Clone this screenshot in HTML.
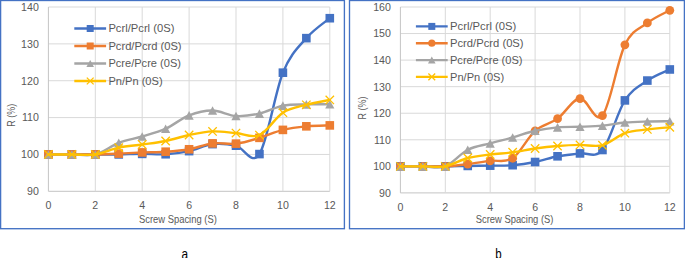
<!DOCTYPE html>
<html><head><meta charset="utf-8"><style>
html,body{margin:0;padding:0;background:#fff;}
body{width:685px;height:258px;overflow:hidden;position:relative;}
svg{position:absolute;left:0;top:0;display:block;}
.t{font-family:"Liberation Sans",sans-serif;font-size:10.6px;fill:#595959;}
.lab{font-family:"Liberation Sans",sans-serif;font-size:14px;fill:#000;}
</style></head><body>
<svg width="685" height="258" viewBox="0 0 685 258">
<rect x="0.6" y="0.5" width="343.8" height="228.2" fill="#fff" stroke="#4472C4" stroke-width="1.35"/>
<line x1="48.4" y1="191.3" x2="329.8" y2="191.3" stroke="#C4C4C4" stroke-width="1"/>
<text x="38.8" y="195.2" text-anchor="end" class="t">90</text>
<line x1="48.4" y1="154.44" x2="329.8" y2="154.44" stroke="#D9D9D9" stroke-width="1"/>
<text x="38.8" y="158.34" text-anchor="end" class="t">100</text>
<line x1="48.4" y1="117.58" x2="329.8" y2="117.58" stroke="#D9D9D9" stroke-width="1"/>
<text x="38.8" y="121.48" text-anchor="end" class="t">110</text>
<line x1="48.4" y1="80.72" x2="329.8" y2="80.72" stroke="#D9D9D9" stroke-width="1"/>
<text x="38.8" y="84.62" text-anchor="end" class="t">120</text>
<line x1="48.4" y1="43.86" x2="329.8" y2="43.86" stroke="#D9D9D9" stroke-width="1"/>
<text x="38.8" y="47.76" text-anchor="end" class="t">130</text>
<line x1="48.4" y1="7" x2="329.8" y2="7" stroke="#D9D9D9" stroke-width="1"/>
<text x="38.8" y="10.9" text-anchor="end" class="t">140</text>
<line x1="48.4" y1="7" x2="48.4" y2="191.3" stroke="#C4C4C4" stroke-width="1"/>
<text x="48.4" y="209.4" text-anchor="middle" class="t">0</text>
<line x1="95.3" y1="7" x2="95.3" y2="191.3" stroke="#D9D9D9" stroke-width="1"/>
<text x="95.3" y="209.4" text-anchor="middle" class="t">2</text>
<line x1="142.2" y1="7" x2="142.2" y2="191.3" stroke="#D9D9D9" stroke-width="1"/>
<text x="142.2" y="209.4" text-anchor="middle" class="t">4</text>
<line x1="189.1" y1="7" x2="189.1" y2="191.3" stroke="#D9D9D9" stroke-width="1"/>
<text x="189.1" y="209.4" text-anchor="middle" class="t">6</text>
<line x1="236" y1="7" x2="236" y2="191.3" stroke="#D9D9D9" stroke-width="1"/>
<text x="236" y="209.4" text-anchor="middle" class="t">8</text>
<line x1="282.9" y1="7" x2="282.9" y2="191.3" stroke="#D9D9D9" stroke-width="1"/>
<text x="282.9" y="209.4" text-anchor="middle" class="t">10</text>
<line x1="329.8" y1="7" x2="329.8" y2="191.3" stroke="#D9D9D9" stroke-width="1"/>
<text x="329.8" y="209.4" text-anchor="middle" class="t">12</text>
<text x="177.9" y="222.7" text-anchor="middle" class="t" textLength="77.8" lengthAdjust="spacingAndGlyphs">Screw Spacing (S)</text>
<text transform="translate(11.4,115.2) rotate(-90)" x="0" y="3.8" text-anchor="middle" class="t" textLength="23" lengthAdjust="spacingAndGlyphs">R (%)</text>
<line x1="74.3" y1="28.5" x2="106.1" y2="28.5" stroke="#4472C4" stroke-width="2.4"/>
<rect x="86.7" y="25" width="7" height="7" fill="#4472C4"/>
<text x="108.4" y="32.3" class="t" textLength="66" lengthAdjust="spacingAndGlyphs">Pcrl/Pcrl (0S)</text>
<line x1="74.3" y1="46" x2="106.1" y2="46" stroke="#ED7D31" stroke-width="2.4"/>
<rect x="86.7" y="42.5" width="7" height="7" fill="#ED7D31"/>
<text x="108.4" y="49.8" class="t" textLength="73.2" lengthAdjust="spacingAndGlyphs">Pcrd/Pcrd (0S)</text>
<line x1="74.3" y1="63.5" x2="106.1" y2="63.5" stroke="#A5A5A5" stroke-width="2.4"/>
<path d="M90.2,60 L94,67 L86.4,67 Z" fill="#A5A5A5"/>
<text x="108.4" y="67.3" class="t" textLength="72.6" lengthAdjust="spacingAndGlyphs">Pcre/Pcre (0S)</text>
<line x1="74.3" y1="81" x2="106.1" y2="81" stroke="#FFC000" stroke-width="2.4"/>
<path d="M86.8,77.6 L93.6,84.4 M86.8,84.4 L93.6,77.6" stroke="#FFC000" stroke-width="1.3" fill="none"/>
<text x="108.4" y="84.8" class="t" textLength="54.2" lengthAdjust="spacingAndGlyphs">Pn/Pn (0S)</text>
<path d="M48.4,154.44 C52.31,154.44 64.03,154.44 71.85,154.44 C79.67,154.44 87.48,154.44 95.3,154.44 C103.12,154.44 110.93,154.53 118.75,154.44 C126.57,154.35 134.38,153.92 142.2,153.89 C150.02,153.86 157.83,154.72 165.65,154.26 C173.47,153.79 181.28,152.81 189.1,151.12 C196.92,149.43 204.73,145.02 212.55,144.12 C220.37,143.22 228.18,144.05 236,145.7 C243.82,147.36 251.63,166.24 259.45,154.07 C267.27,141.9 275.08,92.01 282.9,72.68 C290.72,53.36 298.53,47.23 306.35,38.15 C314.17,29.07 325.89,21.53 329.8,18.21" fill="none" stroke="#4472C4" stroke-width="2.4" stroke-linecap="round" stroke-linejoin="round"/>
<rect x="44.1" y="150.14" width="8.6" height="8.6" fill="#4472C4"/>
<rect x="67.55" y="150.14" width="8.6" height="8.6" fill="#4472C4"/>
<rect x="91" y="150.14" width="8.6" height="8.6" fill="#4472C4"/>
<rect x="114.45" y="150.14" width="8.6" height="8.6" fill="#4472C4"/>
<rect x="137.9" y="149.59" width="8.6" height="8.6" fill="#4472C4"/>
<rect x="161.35" y="149.96" width="8.6" height="8.6" fill="#4472C4"/>
<rect x="184.8" y="146.82" width="8.6" height="8.6" fill="#4472C4"/>
<rect x="208.25" y="139.82" width="8.6" height="8.6" fill="#4472C4"/>
<rect x="231.7" y="141.4" width="8.6" height="8.6" fill="#4472C4"/>
<rect x="255.15" y="149.77" width="8.6" height="8.6" fill="#4472C4"/>
<rect x="278.6" y="68.38" width="8.6" height="8.6" fill="#4472C4"/>
<rect x="302.05" y="33.85" width="8.6" height="8.6" fill="#4472C4"/>
<rect x="325.5" y="13.91" width="8.6" height="8.6" fill="#4472C4"/>
<path d="M48.4,154.44 C52.31,154.44 64.03,154.44 71.85,154.44 C79.67,154.44 87.48,154.58 95.3,154.44 C103.12,154.3 110.93,153.93 118.75,153.59 C126.57,153.25 134.38,152.73 142.2,152.41 C150.02,152.1 157.83,152.23 165.65,151.71 C173.47,151.19 181.28,150.67 189.1,149.28 C196.92,147.89 204.73,144.32 212.55,143.38 C220.37,142.44 228.18,144.56 236,143.64 C243.82,142.72 251.63,140.14 259.45,137.85 C267.27,135.56 275.08,131.81 282.9,129.89 C290.72,127.97 298.53,127.07 306.35,126.32 C314.17,125.57 325.89,125.55 329.8,125.39" fill="none" stroke="#ED7D31" stroke-width="2.4" stroke-linecap="round" stroke-linejoin="round"/>
<rect x="44.1" y="150.14" width="8.6" height="8.6" fill="#ED7D31"/>
<rect x="67.55" y="150.14" width="8.6" height="8.6" fill="#ED7D31"/>
<rect x="91" y="150.14" width="8.6" height="8.6" fill="#ED7D31"/>
<rect x="114.45" y="149.29" width="8.6" height="8.6" fill="#ED7D31"/>
<rect x="137.9" y="148.11" width="8.6" height="8.6" fill="#ED7D31"/>
<rect x="161.35" y="147.41" width="8.6" height="8.6" fill="#ED7D31"/>
<rect x="184.8" y="144.98" width="8.6" height="8.6" fill="#ED7D31"/>
<rect x="208.25" y="139.08" width="8.6" height="8.6" fill="#ED7D31"/>
<rect x="231.7" y="139.34" width="8.6" height="8.6" fill="#ED7D31"/>
<rect x="255.15" y="133.55" width="8.6" height="8.6" fill="#ED7D31"/>
<rect x="278.6" y="125.59" width="8.6" height="8.6" fill="#ED7D31"/>
<rect x="302.05" y="122.02" width="8.6" height="8.6" fill="#ED7D31"/>
<rect x="325.5" y="121.09" width="8.6" height="8.6" fill="#ED7D31"/>
<path d="M48.4,154.44 C52.31,154.44 64.03,154.44 71.85,154.44 C79.67,154.44 87.48,156.36 95.3,154.44 C103.12,152.52 110.93,145.89 118.75,142.9 C126.57,139.91 134.38,138.85 142.2,136.49 C150.02,134.12 157.83,132.23 165.65,128.71 C173.47,125.19 181.28,118.4 189.1,115.37 C196.92,112.33 204.73,110.4 212.55,110.5 C220.37,110.61 228.18,115.48 236,116 C243.82,116.51 251.63,115.33 259.45,113.6 C267.27,111.87 275.08,107.17 282.9,105.64 C290.72,104.1 298.53,104.61 306.35,104.38 C314.17,104.16 325.89,104.32 329.8,104.31" fill="none" stroke="#A5A5A5" stroke-width="2.4" stroke-linecap="round" stroke-linejoin="round"/>
<path d="M48.4,150.14 L53,158.74 L43.8,158.74 Z" fill="#A5A5A5"/>
<path d="M71.85,150.14 L76.45,158.74 L67.25,158.74 Z" fill="#A5A5A5"/>
<path d="M95.3,150.14 L99.9,158.74 L90.7,158.74 Z" fill="#A5A5A5"/>
<path d="M118.75,138.6 L123.35,147.2 L114.15,147.2 Z" fill="#A5A5A5"/>
<path d="M142.2,132.19 L146.8,140.79 L137.6,140.79 Z" fill="#A5A5A5"/>
<path d="M165.65,124.41 L170.25,133.01 L161.05,133.01 Z" fill="#A5A5A5"/>
<path d="M189.1,111.07 L193.7,119.67 L184.5,119.67 Z" fill="#A5A5A5"/>
<path d="M212.55,106.2 L217.15,114.8 L207.95,114.8 Z" fill="#A5A5A5"/>
<path d="M236,111.7 L240.6,120.3 L231.4,120.3 Z" fill="#A5A5A5"/>
<path d="M259.45,109.3 L264.05,117.9 L254.85,117.9 Z" fill="#A5A5A5"/>
<path d="M282.9,101.34 L287.5,109.94 L278.3,109.94 Z" fill="#A5A5A5"/>
<path d="M306.35,100.08 L310.95,108.68 L301.75,108.68 Z" fill="#A5A5A5"/>
<path d="M329.8,100.01 L334.4,108.61 L325.2,108.61 Z" fill="#A5A5A5"/>
<path d="M48.4,154.44 C52.31,154.44 64.03,154.44 71.85,154.44 C79.67,154.44 87.48,155.58 95.3,154.44 C103.12,153.3 110.93,149.28 118.75,147.62 C126.57,145.96 134.38,145.59 142.2,144.49 C150.02,143.38 157.83,142.56 165.65,140.99 C173.47,139.41 181.28,136.61 189.1,135.01 C196.92,133.42 204.73,131.73 212.55,131.4 C220.37,131.08 228.18,132.45 236,133.06 C243.82,133.68 251.63,138.49 259.45,135.09 C267.27,131.69 275.08,117.73 282.9,112.68 C290.72,107.63 298.53,106.92 306.35,104.79 C314.17,102.66 325.89,100.7 329.8,99.89" fill="none" stroke="#FFC000" stroke-width="2.4" stroke-linecap="round" stroke-linejoin="round"/>
<path d="M44.2,150.24 L52.6,158.64 M44.2,158.64 L52.6,150.24" stroke="#FFC000" stroke-width="1.3" fill="none"/>
<path d="M67.65,150.24 L76.05,158.64 M67.65,158.64 L76.05,150.24" stroke="#FFC000" stroke-width="1.3" fill="none"/>
<path d="M91.1,150.24 L99.5,158.64 M91.1,158.64 L99.5,150.24" stroke="#FFC000" stroke-width="1.3" fill="none"/>
<path d="M114.55,143.42 L122.95,151.82 M114.55,151.82 L122.95,143.42" stroke="#FFC000" stroke-width="1.3" fill="none"/>
<path d="M138,140.29 L146.4,148.69 M138,148.69 L146.4,140.29" stroke="#FFC000" stroke-width="1.3" fill="none"/>
<path d="M161.45,136.79 L169.85,145.19 M161.45,145.19 L169.85,136.79" stroke="#FFC000" stroke-width="1.3" fill="none"/>
<path d="M184.9,130.81 L193.3,139.21 M184.9,139.21 L193.3,130.81" stroke="#FFC000" stroke-width="1.3" fill="none"/>
<path d="M208.35,127.2 L216.75,135.6 M208.35,135.6 L216.75,127.2" stroke="#FFC000" stroke-width="1.3" fill="none"/>
<path d="M231.8,128.86 L240.2,137.26 M231.8,137.26 L240.2,128.86" stroke="#FFC000" stroke-width="1.3" fill="none"/>
<path d="M255.25,130.89 L263.65,139.29 M255.25,139.29 L263.65,130.89" stroke="#FFC000" stroke-width="1.3" fill="none"/>
<path d="M278.7,108.48 L287.1,116.88 M278.7,116.88 L287.1,108.48" stroke="#FFC000" stroke-width="1.3" fill="none"/>
<path d="M302.15,100.59 L310.55,108.99 M302.15,108.99 L310.55,100.59" stroke="#FFC000" stroke-width="1.3" fill="none"/>
<path d="M325.6,95.69 L334,104.09 M325.6,104.09 L334,95.69" stroke="#FFC000" stroke-width="1.3" fill="none"/>
<rect x="349.5" y="0.5" width="334.9" height="228.2" fill="#fff" stroke="#4472C4" stroke-width="1.35"/>
<line x1="400.4" y1="192.9" x2="669.8" y2="192.9" stroke="#C4C4C4" stroke-width="1"/>
<text x="390.9" y="196.8" text-anchor="end" class="t">90</text>
<line x1="400.4" y1="166.34" x2="669.8" y2="166.34" stroke="#D9D9D9" stroke-width="1"/>
<text x="390.9" y="170.24" text-anchor="end" class="t">100</text>
<line x1="400.4" y1="139.79" x2="669.8" y2="139.79" stroke="#D9D9D9" stroke-width="1"/>
<text x="390.9" y="143.69" text-anchor="end" class="t">110</text>
<line x1="400.4" y1="113.23" x2="669.8" y2="113.23" stroke="#D9D9D9" stroke-width="1"/>
<text x="390.9" y="117.13" text-anchor="end" class="t">120</text>
<line x1="400.4" y1="86.67" x2="669.8" y2="86.67" stroke="#D9D9D9" stroke-width="1"/>
<text x="390.9" y="90.57" text-anchor="end" class="t">130</text>
<line x1="400.4" y1="60.11" x2="669.8" y2="60.11" stroke="#D9D9D9" stroke-width="1"/>
<text x="390.9" y="64.01" text-anchor="end" class="t">140</text>
<line x1="400.4" y1="33.56" x2="669.8" y2="33.56" stroke="#D9D9D9" stroke-width="1"/>
<text x="390.9" y="37.46" text-anchor="end" class="t">150</text>
<line x1="400.4" y1="7" x2="669.8" y2="7" stroke="#D9D9D9" stroke-width="1"/>
<text x="390.9" y="10.9" text-anchor="end" class="t">160</text>
<line x1="400.4" y1="7" x2="400.4" y2="192.9" stroke="#C4C4C4" stroke-width="1"/>
<text x="400.4" y="211.2" text-anchor="middle" class="t">0</text>
<line x1="445.3" y1="7" x2="445.3" y2="192.9" stroke="#D9D9D9" stroke-width="1"/>
<text x="445.3" y="211.2" text-anchor="middle" class="t">2</text>
<line x1="490.2" y1="7" x2="490.2" y2="192.9" stroke="#D9D9D9" stroke-width="1"/>
<text x="490.2" y="211.2" text-anchor="middle" class="t">4</text>
<line x1="535.1" y1="7" x2="535.1" y2="192.9" stroke="#D9D9D9" stroke-width="1"/>
<text x="535.1" y="211.2" text-anchor="middle" class="t">6</text>
<line x1="580" y1="7" x2="580" y2="192.9" stroke="#D9D9D9" stroke-width="1"/>
<text x="580" y="211.2" text-anchor="middle" class="t">8</text>
<line x1="624.9" y1="7" x2="624.9" y2="192.9" stroke="#D9D9D9" stroke-width="1"/>
<text x="624.9" y="211.2" text-anchor="middle" class="t">10</text>
<line x1="669.8" y1="7" x2="669.8" y2="192.9" stroke="#D9D9D9" stroke-width="1"/>
<text x="669.8" y="211.2" text-anchor="middle" class="t">12</text>
<text x="514.6" y="222.7" text-anchor="middle" class="t" textLength="77.8" lengthAdjust="spacingAndGlyphs">Screw Spacing (S)</text>
<text transform="translate(362.1,107.9) rotate(-90)" x="0" y="3.8" text-anchor="middle" class="t" textLength="23" lengthAdjust="spacingAndGlyphs">R (%)</text>
<line x1="415.9" y1="26.4" x2="447.7" y2="26.4" stroke="#4472C4" stroke-width="2.4"/>
<rect x="428.3" y="22.9" width="7" height="7" fill="#4472C4"/>
<text x="450" y="30.2" class="t" textLength="66.3" lengthAdjust="spacingAndGlyphs">Pcrl/Pcrl (0S)</text>
<line x1="415.9" y1="43.2" x2="447.7" y2="43.2" stroke="#ED7D31" stroke-width="2.4"/>
<circle cx="431.8" cy="43.2" r="3.6" fill="#ED7D31"/>
<text x="450" y="47" class="t" textLength="73.6" lengthAdjust="spacingAndGlyphs">Pcrd/Pcrd (0S)</text>
<line x1="415.9" y1="60.1" x2="447.7" y2="60.1" stroke="#A5A5A5" stroke-width="2.4"/>
<path d="M431.8,56.6 L435.6,63.6 L428,63.6 Z" fill="#A5A5A5"/>
<text x="450" y="63.9" class="t" textLength="72.5" lengthAdjust="spacingAndGlyphs">Pcre/Pcre (0S)</text>
<line x1="415.9" y1="76.9" x2="447.7" y2="76.9" stroke="#FFC000" stroke-width="2.4"/>
<path d="M428.4,73.5 L435.2,80.3 M428.4,80.3 L435.2,73.5" stroke="#FFC000" stroke-width="1.3" fill="none"/>
<text x="450" y="80.7" class="t" textLength="54.2" lengthAdjust="spacingAndGlyphs">Pn/Pn (0S)</text>
<path d="M400.4,166.34 C404.14,166.34 415.37,166.34 422.85,166.34 C430.33,166.34 437.82,166.41 445.3,166.34 C452.78,166.28 460.27,166.06 467.75,165.94 C475.23,165.83 482.72,165.78 490.2,165.65 C497.68,165.53 505.17,165.81 512.65,165.2 C520.13,164.59 527.62,163.5 535.1,162.01 C542.58,160.53 550.07,157.74 557.55,156.3 C565.03,154.87 572.52,154.46 580,153.41 C587.48,152.36 594.97,158.84 602.45,150.01 C609.93,141.18 617.42,111.98 624.9,100.4 C632.38,88.83 639.87,85.72 647.35,80.56 C654.83,75.41 666.06,71.31 669.8,69.46" fill="none" stroke="#4472C4" stroke-width="2.4" stroke-linecap="round" stroke-linejoin="round"/>
<rect x="396.1" y="162.04" width="8.6" height="8.6" fill="#4472C4"/>
<rect x="418.55" y="162.04" width="8.6" height="8.6" fill="#4472C4"/>
<rect x="441" y="162.04" width="8.6" height="8.6" fill="#4472C4"/>
<rect x="463.45" y="161.64" width="8.6" height="8.6" fill="#4472C4"/>
<rect x="485.9" y="161.35" width="8.6" height="8.6" fill="#4472C4"/>
<rect x="508.35" y="160.9" width="8.6" height="8.6" fill="#4472C4"/>
<rect x="530.8" y="157.71" width="8.6" height="8.6" fill="#4472C4"/>
<rect x="553.25" y="152" width="8.6" height="8.6" fill="#4472C4"/>
<rect x="575.7" y="149.11" width="8.6" height="8.6" fill="#4472C4"/>
<rect x="598.15" y="145.71" width="8.6" height="8.6" fill="#4472C4"/>
<rect x="620.6" y="96.1" width="8.6" height="8.6" fill="#4472C4"/>
<rect x="643.05" y="76.26" width="8.6" height="8.6" fill="#4472C4"/>
<rect x="665.5" y="65.16" width="8.6" height="8.6" fill="#4472C4"/>
<path d="M400.4,166.34 C404.14,166.34 415.37,166.34 422.85,166.34 C430.33,166.34 437.82,166.71 445.3,166.34 C452.78,165.97 460.27,165.03 467.75,164.11 C475.23,163.19 482.72,161.8 490.2,160.82 C497.68,159.84 505.17,163.24 512.65,158.24 C520.13,153.25 527.62,137.44 535.1,130.84 C542.58,124.24 550.07,124.03 557.55,118.65 C565.03,113.26 572.52,99.06 580,98.54 C587.48,98.02 594.97,124.48 602.45,115.54 C609.93,106.59 617.42,60.3 624.9,44.87 C632.38,29.44 639.87,28.7 647.35,22.93 C654.83,17.17 666.06,12.4 669.8,10.29" fill="none" stroke="#ED7D31" stroke-width="2.4" stroke-linecap="round" stroke-linejoin="round"/>
<circle cx="400.4" cy="166.34" r="4.4" fill="#ED7D31"/>
<circle cx="422.85" cy="166.34" r="4.4" fill="#ED7D31"/>
<circle cx="445.3" cy="166.34" r="4.4" fill="#ED7D31"/>
<circle cx="467.75" cy="164.11" r="4.4" fill="#ED7D31"/>
<circle cx="490.2" cy="160.82" r="4.4" fill="#ED7D31"/>
<circle cx="512.65" cy="158.24" r="4.4" fill="#ED7D31"/>
<circle cx="535.1" cy="130.84" r="4.4" fill="#ED7D31"/>
<circle cx="557.55" cy="118.65" r="4.4" fill="#ED7D31"/>
<circle cx="580" cy="98.54" r="4.4" fill="#ED7D31"/>
<circle cx="602.45" cy="115.54" r="4.4" fill="#ED7D31"/>
<circle cx="624.9" cy="44.87" r="4.4" fill="#ED7D31"/>
<circle cx="647.35" cy="22.93" r="4.4" fill="#ED7D31"/>
<circle cx="669.8" cy="10.29" r="4.4" fill="#ED7D31"/>
<path d="M400.4,166.34 C404.14,166.34 415.37,166.34 422.85,166.34 C430.33,166.34 437.82,169.1 445.3,166.34 C452.78,163.58 460.27,153.6 467.75,149.77 C475.23,145.94 482.72,145.4 490.2,143.34 C497.68,141.29 505.17,139.55 512.65,137.45 C520.13,135.35 527.62,132.44 535.1,130.76 C542.58,129.07 550.07,127.99 557.55,127.33 C565.03,126.67 572.52,127.05 580,126.77 C587.48,126.5 594.97,126.4 602.45,125.68 C609.93,124.97 617.42,123.2 624.9,122.5 C632.38,121.8 639.87,121.7 647.35,121.49 C654.83,121.28 666.06,121.29 669.8,121.25" fill="none" stroke="#A5A5A5" stroke-width="2.4" stroke-linecap="round" stroke-linejoin="round"/>
<path d="M400.4,162.04 L405,170.64 L395.8,170.64 Z" fill="#A5A5A5"/>
<path d="M422.85,162.04 L427.45,170.64 L418.25,170.64 Z" fill="#A5A5A5"/>
<path d="M445.3,162.04 L449.9,170.64 L440.7,170.64 Z" fill="#A5A5A5"/>
<path d="M467.75,145.47 L472.35,154.07 L463.15,154.07 Z" fill="#A5A5A5"/>
<path d="M490.2,139.04 L494.8,147.64 L485.6,147.64 Z" fill="#A5A5A5"/>
<path d="M512.65,133.15 L517.25,141.75 L508.05,141.75 Z" fill="#A5A5A5"/>
<path d="M535.1,126.46 L539.7,135.06 L530.5,135.06 Z" fill="#A5A5A5"/>
<path d="M557.55,123.03 L562.15,131.63 L552.95,131.63 Z" fill="#A5A5A5"/>
<path d="M580,122.47 L584.6,131.07 L575.4,131.07 Z" fill="#A5A5A5"/>
<path d="M602.45,121.38 L607.05,129.98 L597.85,129.98 Z" fill="#A5A5A5"/>
<path d="M624.9,118.2 L629.5,126.8 L620.3,126.8 Z" fill="#A5A5A5"/>
<path d="M647.35,117.19 L651.95,125.79 L642.75,125.79 Z" fill="#A5A5A5"/>
<path d="M669.8,116.95 L674.4,125.55 L665.2,125.55 Z" fill="#A5A5A5"/>
<path d="M400.4,166.34 C404.14,166.34 415.37,166.34 422.85,166.34 C430.33,166.34 437.82,167.73 445.3,166.34 C452.78,164.96 460.27,160 467.75,158.03 C475.23,156.06 482.72,155.49 490.2,154.52 C497.68,153.56 505.17,153.27 512.65,152.27 C520.13,151.27 527.62,149.56 535.1,148.52 C542.58,147.48 550.07,146.63 557.55,146.03 C565.03,145.42 572.52,145.04 580,144.91 C587.48,144.78 594.97,147.19 602.45,145.23 C609.93,143.27 617.42,135.78 624.9,133.15 C632.38,130.51 639.87,130.42 647.35,129.43 C654.83,128.44 666.06,127.59 669.8,127.22" fill="none" stroke="#FFC000" stroke-width="2.4" stroke-linecap="round" stroke-linejoin="round"/>
<path d="M396.2,162.14 L404.6,170.54 M396.2,170.54 L404.6,162.14" stroke="#FFC000" stroke-width="1.3" fill="none"/>
<path d="M418.65,162.14 L427.05,170.54 M418.65,170.54 L427.05,162.14" stroke="#FFC000" stroke-width="1.3" fill="none"/>
<path d="M441.1,162.14 L449.5,170.54 M441.1,170.54 L449.5,162.14" stroke="#FFC000" stroke-width="1.3" fill="none"/>
<path d="M463.55,153.83 L471.95,162.23 M463.55,162.23 L471.95,153.83" stroke="#FFC000" stroke-width="1.3" fill="none"/>
<path d="M486,150.32 L494.4,158.72 M486,158.72 L494.4,150.32" stroke="#FFC000" stroke-width="1.3" fill="none"/>
<path d="M508.45,148.07 L516.85,156.47 M508.45,156.47 L516.85,148.07" stroke="#FFC000" stroke-width="1.3" fill="none"/>
<path d="M530.9,144.32 L539.3,152.72 M530.9,152.72 L539.3,144.32" stroke="#FFC000" stroke-width="1.3" fill="none"/>
<path d="M553.35,141.83 L561.75,150.23 M553.35,150.23 L561.75,141.83" stroke="#FFC000" stroke-width="1.3" fill="none"/>
<path d="M575.8,140.71 L584.2,149.11 M575.8,149.11 L584.2,140.71" stroke="#FFC000" stroke-width="1.3" fill="none"/>
<path d="M598.25,141.03 L606.65,149.43 M598.25,149.43 L606.65,141.03" stroke="#FFC000" stroke-width="1.3" fill="none"/>
<path d="M620.7,128.95 L629.1,137.35 M620.7,137.35 L629.1,128.95" stroke="#FFC000" stroke-width="1.3" fill="none"/>
<path d="M643.15,125.23 L651.55,133.63 M643.15,133.63 L651.55,125.23" stroke="#FFC000" stroke-width="1.3" fill="none"/>
<path d="M665.6,123.02 L674,131.42 M665.6,131.42 L674,123.02" stroke="#FFC000" stroke-width="1.3" fill="none"/>
<text x="184.9" y="258.7" text-anchor="middle" class="lab" textLength="6.6" lengthAdjust="spacingAndGlyphs">a</text>
<text x="498.5" y="258.7" text-anchor="middle" class="lab" textLength="6.4" lengthAdjust="spacingAndGlyphs">b</text>
</svg>
</body></html>
